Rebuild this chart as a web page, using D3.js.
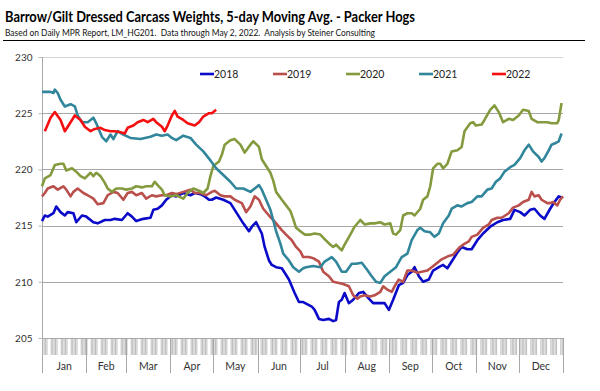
<!DOCTYPE html>
<html><head><meta charset="utf-8">
<script src="https://cdn.jsdelivr.net/npm/d3@7"></script>
<style>body{margin:0;background:#fff}svg{display:block}</style>
</head><body>
<svg id="c" width="600" height="391"></svg>
<script>
const titleText = "Barrow/Gilt Dressed Carcass Weights, 5-day Moving Avg. - Packer Hogs";
const subtitleText = "Based on Daily MPR Report, LM_HG201.  Data through May 2, 2022.  Analysis by Steiner Consulting";
const months = ["Jan","Feb","Mar","Apr","May","Jun","Jul","Aug","Sep","Oct","Nov","Dec"];
const monthDays = [31,28,31,30,31,30,31,31,30,31,30,31];
const yTicks = [205,210,215,220,225,230];
const seriesNames = ["2018","2019","2020","2021","2022"];
const seriesColors = ["#0a0ac8","#b9504c","#849a3e","#31869b","#f41010"];

// day of year (0 = Jan 1) and 5-day moving average weight (lbs)
const days2018 = [0,2,4,8,10,13,16,18,22,24, 28,31,36,39,44,48,51,56,60,63, 66,71,76,78,81,84,87,91,94,99,
  104,107,111,114,117,119,122,127,132,136, 141,145,147,150,154,156,159,161,164,168, 170,173,175,177,180,183,189,191,194,197,
  201,204,206,208,210,212,215,218,222,225, 229,232,237,240,243,246,250,253,256,259, 261,264,267,271,274,278,281,284,287,291,
  294,298,301,305,309,314,319,323,328,331, 335,338,342,345,349,352,356,359,362,364];
const vals2018 = [215.4,215.9,215.8,216.1,216.7,216.2,215.9,216.2,216.1,215.3, 215.9,215.8,215.3,215.2,215.5,215.5,215.6,215.5,216.1,215.8,
  215.4,215.6,215.7,216.4,216.5,216.8,217.3,217.7,217.6,217.9, 217.7,217.9,217.8,217.6,217.3,217.3,217.5,217.3,217.0,216.2,
  215.2,214.5,214.9,215.3,214.3,213.1,211.9,211.5,211.3,211.2, 210.8,210.2,209.6,209.0,208.2,208.2,207.8,207.5,206.7,206.6,
  206.7,206.5,206.6,208.2,208.4,209.0,208.1,208.4,209.0,209.1, 208.5,208.1,208.1,208.1,207.5,208.4,209.7,209.9,210.6,210.9,
  211.3,210.5,210.0,210.2,211.0,211.3,211.5,211.2,211.8,212.6, 213.1,212.9,212.9,213.7,214.3,214.9,215.3,215.5,215.6,216.4,
  216.2,215.9,216.4,216.5,215.9,215.6,216.5,217.1,217.6,217.5];

const days2019 = [0,2,4,8,11,15,17,20,22,25, 29,32,36,39,43,46,50,53,57,60, 63,66,70,73,77,80,84,87,91,94,
  99,104,107,111,115,119,121,125,128,132, 135,140,143,146,149,152,155,159,162,164, 168,171,175,178,181,183,187,190,194,197,
  201,204,208,211,215,218,221,223,226,230, 233,237,239,242,245,247,250,253,256,259, 263,266,270,273,277,280,285,288,292,295,
  299,301,305,309,313,315,319,322,327,330, 334,337,341,343,345,348,350,354,356,358, 361,363,365];
const vals2019 = [217.6,217.9,218.3,218.5,218.2,218.5,218.2,217.6,218.0,218.3, 217.9,217.7,217.4,216.9,217.0,217.7,218.0,217.9,217.3,217.9,
  218.0,217.7,217.9,217.4,217.7,217.6,217.7,217.7,217.9,217.8, 218.0,218.2,217.9,217.9,217.7,218.0,218.1,217.7,217.6,217.6,
  217.3,217.0,216.2,216.7,217.6,217.3,216.5,215.9,215.5,215.2, 214.6,214.2,213.7,213.1,212.7,212.2,212.2,212.1,211.8,210.9,
  210.5,210.0,209.9,209.8,209.6,208.8,208.5,208.7,208.8,208.7, 208.8,209.1,209.6,209.3,209.1,209.6,210.2,210.0,211.0,211.0,
  210.8,210.9,211.0,211.3,211.7,212.0,212.3,212.4,213.0,213.3, 213.6,214.0,214.2,214.8,215.1,215.5,215.7,215.7,216.1,216.6,
  216.8,217.1,217.3,218.0,217.6,217.7,217.3,217.0,217.0,217.1, 216.8,217.3,217.6];

const days2020 = [0,2,6,9,13,15,17,21,24,27, 30,34,36,38,41,44,46,49,52,56, 59,63,66,70,73,77,79,81,84,86,
  90,94,99,102,106,110,113,116,118,120, 124,126,128,132,135,139,142,146,148,152, 154,157,160,162,164,168,171,174,176,178,
  181,184,188,191,195,198,202,204,206,210, 212,216,219,223,226,230,233,237,240,244, 246,248,251,253,256,259,261,265,267,270,
  272,274,277,279,281,284,287,291,294,296, 300,302,304,308,310,314,317,320,323,327, 330,334,337,341,343,347,350,354,357,361,
  362,364];
const vals2020 = [218.5,219.2,219.5,220.4,220.5,220.5,219.9,220.1,219.8,219.4, 219.2,219.7,219.4,219.7,219.4,218.8,218.3,218.0,218.3,218.3,
  218.2,218.3,218.5,218.4,218.5,218.5,218.9,218.6,218.2,217.7, 217.6,217.7,217.4,217.9,218.3,218.1,217.9,218.3,219.4,220.3,
  220.7,221.3,222.2,222.6,222.7,222.2,221.5,222.2,222.5,222.0, 220.9,220.3,219.7,219.0,218.0,217.3,216.8,216.3,215.6,214.8,
  214.5,214.2,214.2,214.3,214.2,213.8,213.3,213.1,213.3,212.8, 213.3,214.2,214.9,215.5,215.1,215.2,215.2,215.3,215.1,215.2,
  214.3,214.2,214.6,215.9,216.1,216.1,215.9,216.5,217.3,217.6, 218.5,220.1,220.5,220.5,220.1,220.5,221.6,221.7,222.0,223.4,
  224.1,224.2,223.9,224.0,224.4,225.3,225.7,225.1,224.2,224.5, 224.4,224.8,225.3,225.2,224.5,224.2,224.2,224.2,224.1,224.1,
  224.4,225.9];

const days2021 = [0,2,6,8,9,11,13,16,20,23, 25,28,32,36,38,42,45,48,50,53, 57,62,69,76,80,84,88,91,94,99,
  104,108,113,118,122,127,132,136,141,146, 149,152,154,157,160,162,164,167,169,173, 176,180,183,185,190,195,198,203,206,210,
  213,217,220,224,227,231,234,237,240,244, 248,252,256,259,263,265,268,272,275,278, 281,285,287,291,294,298,301,305,308,312,
  315,318,321,324,328,331,335,338,341,344, 348,350,352,355,357,359,362,364];
const vals2021 = [226.9,226.9,226.9,226.8,227.1,226.8,226.2,225.6,225.8,225.6, 224.8,224.2,224.2,224.6,224.1,222.9,222.5,223.1,222.7,223.4,
  223.1,222.8,222.7,222.9,223.1,223.0,223.1,222.8,222.6,223.0, 222.8,222.2,221.6,220.8,220.1,219.5,218.9,218.3,218.3,218.0,
  218.3,218.6,218.2,217.3,216.4,215.5,214.5,213.4,212.5,211.9, 211.3,210.9,211.2,211.3,211.4,211.3,211.8,212.2,211.8,210.9,
  210.9,211.6,211.6,211.7,211.2,210.5,210.0,209.9,210.5,210.9, 211.3,212.2,212.5,213.7,214.6,214.8,214.5,214.4,214.0,214.3,
  215.2,215.9,216.5,216.8,216.7,217.0,217.1,217.6,217.6,218.2, 218.3,218.9,219.2,219.8,220.2,220.4,221.0,221.7,222.2,221.6,
  221.1,220.7,221.0,221.7,222.2,222.3,222.5,223.2];

const days2022 = [2,6,9,13,16,20,23,27,30,34, 37,41,44,48,51,55,58,60,64,67, 71,74,78,80,84,86,88,91,93,95,
  99,102,107,110,113,117,119,122];
const vals2022 = [223.4,224.6,225.1,224.4,223.4,224.2,224.8,224.4,223.8,223.4, 223.6,223.7,223.5,223.4,223.4,223.3,223.2,223.7,223.9,224.2,
  224.4,224.2,224.5,224.2,223.8,223.4,223.9,224.8,225.2,224.7, 224.4,224.1,223.9,224.2,224.7,225.0,225.0,225.3];

const seriesDays = [days2018,days2019,days2020,days2021,days2022];
const seriesVals = [vals2018,vals2019,vals2020,vals2021,vals2022];

const svg = d3.select("#c");
const FONT = "Lato, 'Open Sans', sans-serif";
const x = d3.scaleLinear().domain([0,365]).range([42,563]);
const y = d3.scaleLinear().domain([205,230]).range([338,57]);

// title
svg.append("text").attr("x",5).attr("y",22).attr("font-family",FONT).attr("font-weight","bold")
  .attr("font-size",15.5).attr("fill","#000").attr("textLength",410).attr("lengthAdjust","spacingAndGlyphs").text(titleText);
svg.append("text").attr("x",5).attr("y",35.5).attr("font-family",FONT)
  .attr("font-size",9.5).attr("fill","#111").attr("textLength",370).attr("lengthAdjust","spacingAndGlyphs")
  .style("white-space","pre").text(subtitleText);
svg.append("line").attr("x1",3).attr("x2",585).attr("y1",40.5).attr("y2",40.5).attr("stroke","#000").attr("stroke-width",1);

// gridlines
svg.append("g").selectAll("line").data(yTicks.filter(d=>d>205)).join("line")
  .attr("x1",x(0)).attr("x2",x(365)).attr("y1",d=>Math.round(y(d))+0.5).attr("y2",d=>Math.round(y(d))+0.5)
  .attr("stroke",d=>d===230?"#d4d4d4":"#a8a8a8").attr("stroke-width",1);

// y axis
const yAxis = d3.axisLeft(y).tickValues(yTicks).tickSize(4).tickPadding(6).tickFormat(d3.format("d"));
const ga = svg.append("g").attr("transform",`translate(${Math.round(x(0))+0.5},0)`).call(yAxis);
ga.select(".domain").remove();
ga.selectAll(".tick line").attr("stroke","#bbb");
ga.selectAll("text").attr("font-family",FONT).attr("font-size",10).attr("fill","#333");
svg.append("line").attr("x1",Math.round(x(0))+0.5).attr("x2",Math.round(x(0))+0.5)
  .attr("y1",y(230)).attr("y2",373).attr("stroke","#a8a8a8");

// x axis: daily category ticks
const weekdays = d3.range(0,365).filter(d => { const w = new Date(2019,0,1+d).getDay(); return w!==0 && w!==6; });
svg.append("g").selectAll("line").data(weekdays).join("line")
  .attr("x1",d=>x(d+0.5)).attr("x2",d=>x(d+0.5)).attr("y1",y(205)).attr("y2",355)
  .attr("stroke","#b4b4b4").attr("stroke-width",0.9);
svg.append("line").attr("x1",x(0)).attr("x2",x(365)).attr("y1",Math.round(y(205))+0.5).attr("y2",Math.round(y(205))+0.5)
  .attr("stroke","#a8a8a8");
const monthStart = [0]; monthDays.forEach((d,i)=>monthStart.push(monthStart[i]+d));
svg.append("g").selectAll("line").data(monthStart.slice(1)).join("line")
  .attr("x1",d=>Math.round(x(d))+0.5).attr("x2",d=>Math.round(x(d))+0.5).attr("y1",y(205)).attr("y2",373)
  .attr("stroke","#a8a8a8");
svg.append("g").selectAll("text").data(months).join("text")
  .attr("x",(d,i)=>x((monthStart[i]+monthStart[i+1])/2)).attr("y",370).attr("text-anchor","middle")
  .attr("font-family",FONT).attr("font-size",10.5).attr("fill","#333").text(d=>d);

// series
const line = d3.line().x(d=>x(d[0])).y(d=>y(d[1]));
seriesNames.forEach((name,i)=>{
  const pts = seriesDays[i].map((d,j)=>[d,seriesVals[i][j]]);
  svg.append("path").datum(pts).attr("d",line).attr("fill","none")
    .attr("stroke",seriesColors[i]).attr("stroke-width",2.6).attr("stroke-linejoin","round");
});

// legend
const lx = d3.scalePoint().domain(seriesNames).range([200,492]);
const lg = svg.append("g").selectAll("g").data(seriesNames).join("g").attr("transform",d=>`translate(${lx(d)},74)`);
lg.append("line").attr("x1",0).attr("x2",14).attr("stroke",(d,i)=>seriesColors[i]).attr("stroke-width",2.6);
lg.append("text").attr("x",14).attr("y",4).attr("font-family",FONT).attr("font-size",10.5).attr("fill","#222").text(d=>d);
</script>
</body></html>
